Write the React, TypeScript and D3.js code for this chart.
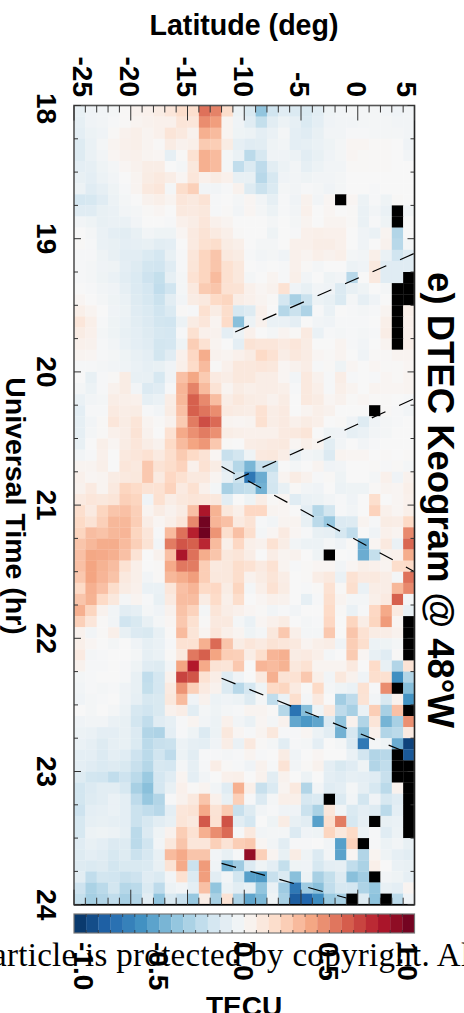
import React from "react";
import * as d3 from "d3";

const N = null;
// DTEC in hundredths of a TECU; rows every 5 min, columns every 1 deg latitude from -25 to 5.
const hour18 = [
[-8,-4,-3,-2,1,4,5,8,12,18,17,55,50,18,-6,-16,-40,-20,-12,-15,-16,-11,-5,-3,-2,-2,-2,-3,-4,-3],
[-9,-4,-3,-1,1,3,4,5,5,13,12,47,42,3,-4,-12,-24,-11,-6,-9,-15,-10,-4,-3,-3,-2,-2,-2,-3,-3],
[-10,-6,-4,1,4,6,3,5,13,10,4,36,32,3,-5,-6,-10,-7,-2,-10,-12,-8,-3,-3,-1,-1,-2,-2,-2,-3],
[-13,-7,-2,3,5,6,3,1,8,4,6,26,25,8,-9,-12,-11,-5,-3,-10,-9,-7,-5,-2,2,2,1,1,0,-4],
[-13,-7,-3,2,4,5,3,2,-9,1,15,36,32,-2,-7,-27,-17,-4,-4,-6,-11,-8,-4,-2,2,1,1,1,0,-3],
[-10,-9,-5,-2,2,4,7,7,0,-2,11,36,32,-2,-25,-15,-26,-11,-6,-3,-9,-6,-3,-3,1,1,1,1,0,0],
[-8,-10,-6,-3,0,3,8,10,7,2,12,5,8,5,-8,-8,-28,-17,-4,-3,-5,-3,-3,-2,0,0,0,0,0,0],
[-6,-12,-9,-5,-1,3,10,12,-2,18,24,-3,-3,-1,4,-13,-22,-15,-2,-3,-1,-2,-4,-2,0,0,-1,0,0,0],
[-18,-17,-12,-6,-2,0,4,6,3,12,10,14,-1,0,-2,2,-3,-9,-1,-4,4,-3,2,N,2,-6,-1,-5,1,0],
[-12,-12,-8,-7,-3,-2,1,2,0,10,9,11,-1,1,-3,2,-2,-6,-1,-3,5,0,2,0,1,-7,-3,-7,N,-3],
[-3,-5,-8,-7,-7,-3,0,0,-1,5,7,12,5,3,0,0,0,-2,0,-2,3,0,3,3,1,-7,-1,-5,N,0],
[0,-2,-7,-10,-11,-8,-3,-5,-5,2,9,14,9,6,1,0,0,-5,0,-1,5,6,5,5,0,-4,-7,3,-30,0],
];
const hour19 = [
[1,-1,-7,-8,-10,-9,-8,-11,-10,0,9,16,18,8,6,0,-2,-2,0,5,5,7,7,5,0,-4,0,4,-28,-2],
[-1,-1,-5,-8,-11,-11,-15,-18,-8,-1,12,22,28,10,8,-1,-3,-2,-4,5,3,6,4,6,-2,-3,6,-7,-20,-12],
[-1,-2,-4,-5,-10,-13,-19,-20,-12,-1,13,22,28,16,11,0,-1,0,-1,5,1,-2,0,0,-6,-4,10,-12,-12,-12],
[-1,-2,-5,-7,-11,-15,-21,-24,-9,-2,15,22,32,16,11,-2,0,3,-1,6,-3,0,-5,-3,-28,0,10,-12,-12,N],
[0,-1,-3,-4,-9,-14,-18,-25,-20,-2,10,26,28,15,14,5,2,4,15,-4,-8,-3,-4,-14,-8,-5,0,-2,N,N],
[2,0,-2,-5,-7,-13,-17,-22,-11,-3,8,10,20,22,7,5,3,1,-18,-33,-22,-6,-8,-15,-2,-9,-4,0,N,N],
[6,3,0,-4,-6,-12,-15,-20,-15,1,-1,16,8,18,-17,-13,5,0,-29,-22,-31,-1,-7,0,-1,-2,-1,3,N,6],
[12,6,-1,-5,-7,-11,-14,-19,-20,-6,8,12,3,19,-42,-6,4,-7,-7,-10,0,-3,-4,-1,-1,-1,0,6,N,5],
[8,5,-2,-5,-8,-10,-13,-17,-18,-1,16,5,4,-10,-6,5,0,-2,3,1,9,-7,-1,-2,-1,-2,-1,7,N,5],
[5,4,-1,-3,-7,-10,-12,-19,-18,-5,25,15,3,0,-10,14,12,12,9,12,8,0,0,3,-1,-3,0,3,N,6],
[3,2,-1,-2,-5,-8,-10,-19,-12,5,21,37,4,3,5,8,20,15,7,11,8,2,1,3,0,-4,1,1,3,3],
[-1,-1,-2,-3,-4,-7,-9,-8,-4,6,19,32,1,5,11,11,12,11,2,4,7,-1,1,-5,2,0,2,1,1,2],
];
const hour20 = [
[0,-8,-1,1,8,-8,-8,-17,-4,30,39,26,9,7,11,11,7,7,2,-3,10,4,-1,7,-1,0,-1,2,1,3],
[-2,-6,-1,4,8,-3,-14,-12,-1,34,50,32,14,3,8,6,7,7,6,-1,10,6,-1,6,3,0,3,2,2,3],
[-7,-3,-2,7,6,5,-9,-7,7,33,60,48,31,7,11,8,7,4,8,0,10,8,2,4,1,2,1,1,0,-1],
[-10,-1,-1,9,7,8,-1,-3,8,30,60,54,47,9,8,7,15,7,9,0,3,6,4,0,0,0,N,1,-1,-3],
[-9,-3,1,12,8,13,3,1,4,26,52,65,57,3,2,3,16,7,9,5,8,6,0,1,-4,-13,-4,-2,-1,0],
[-9,-2,1,5,7,14,4,0,15,38,46,52,46,7,6,5,5,5,9,10,13,0,-5,-4,-9,-7,-3,-2,0,0],
[-8,0,6,2,8,12,7,4,20,32,40,44,27,1,0,7,8,9,10,2,6,3,-11,-3,0,-3,-1,0,0,0],
[-3,-1,5,0,10,12,15,9,17,26,20,14,2,-23,-19,-5,10,11,7,-9,-3,-5,-14,3,2,2,0,1,0,1],
[3,3,6,0,12,10,27,14,18,23,5,15,8,-12,-29,-46,-23,-24,0,-2,0,3,-4,-3,0,0,1,-1,1,-2],
[5,2,3,8,10,11,27,9,21,16,10,10,3,-8,-22,-72,-50,-18,3,8,4,-1,1,-5,0,0,-2,5,-4,4],
[4,9,3,10,22,19,14,15,23,9,16,5,-2,-33,-26,-24,-48,-19,-8,1,-3,-4,0,-6,-5,-5,1,3,2,6],
[9,12,11,13,24,22,-4,16,7,11,13,12,11,-11,0,-5,7,1,2,-12,-7,-6,-3,-1,-4,0,17,0,2,5],
];
const hour21 = [
[17,9,22,28,30,24,3,8,4,8,30,82,35,11,6,21,21,3,2,0,-10,-29,-19,-1,-3,0,23,5,2,6],
[20,14,24,33,33,25,7,2,6,12,48,97,34,30,9,14,-1,-3,3,3,-8,-27,-38,-14,-13,3,-1,8,7,20],
[22,31,29,33,34,22,12,-1,32,55,78,98,45,17,30,17,-2,2,9,2,-1,-8,-9,-17,-25,0,-4,5,3,48],
[28,33,37,37,32,24,14,-3,52,63,60,76,32,6,21,6,4,15,7,-3,-6,-6,-2,-4,1,-50,2,10,-7,58],
[30,39,38,36,30,14,0,4,30,82,55,37,28,11,13,7,0,7,3,4,0,-5,N,0,-1,-50,-24,4,5,37],
[30,40,35,31,15,6,0,1,38,53,52,25,10,11,18,15,9,15,3,-1,1,2,2,-3,2,6,5,3,18,19],
[27,40,34,29,10,6,-3,1,33,37,42,25,11,11,18,4,8,13,7,0,1,7,10,-7,15,9,10,7,-2,55],
[20,36,30,18,8,5,-7,-7,12,30,34,20,21,8,22,-2,6,15,8,0,-1,1,15,1,17,-7,7,7,33,48],
[28,35,20,11,-2,3,-1,-8,9,31,31,8,19,6,18,0,2,5,4,0,-9,-1,17,3,-2,-2,6,9,60,-2],
[36,22,4,-3,-11,-9,-2,-4,4,29,23,-2,13,7,5,2,1,-3,-1,-3,0,0,19,1,-7,-1,21,38,9,-8],
[24,12,1,-3,-20,-16,-8,-2,2,27,16,1,10,10,-2,-7,2,5,8,0,-2,-1,21,0,22,7,22,43,2,N],
[4,-3,1,6,-8,-14,-16,-8,1,32,13,3,12,6,3,-5,-2,11,27,6,-2,-2,27,0,28,15,8,7,4,N],
];
const hour22 = [
[6,2,0,-2,0,-4,-9,-7,-1,15,15,36,57,28,8,12,9,14,12,10,3,6,7,-4,25,17,-6,-5,-2,N],
[9,-2,-1,0,0,-2,-9,-7,1,10,53,60,40,25,24,7,17,34,36,8,9,6,-2,0,26,2,-8,-12,1,N],
[4,-1,-1,0,-1,-5,-12,-13,-3,40,80,38,14,13,27,0,34,32,35,11,15,3,3,3,10,0,19,-8,-30,14],
[-2,-1,0,0,-1,-8,-25,-18,4,68,63,15,7,-12,-4,0,10,36,14,15,27,6,-3,11,4,-4,17,16,-62,-30],
[-3,-1,-2,-1,-4,-8,-24,-18,9,45,24,9,4,-14,-28,-18,-5,20,22,9,1,20,-2,-5,-7,15,-1,47,N,-43],
[-4,-2,-1,0,-4,-9,-17,-16,11,32,-4,4,-6,-4,-6,-13,-2,-25,-7,17,-2,10,0,-35,-26,14,-3,-16,4,-60],
[0,-2,0,-2,-6,-17,-20,-16,4,7,-11,-2,-5,-2,-1,3,3,1,-29,-74,-43,-5,10,-26,-33,-7,25,-33,30,N],
[-4,-3,-3,-7,-8,-19,-25,-12,-9,-1,3,-3,-6,5,-3,-7,2,-2,4,-52,-58,-53,-14,-40,4,-30,13,-47,-33,46],
[-6,-7,-10,-10,-8,-14,-30,-31,-10,-1,-5,-14,-6,11,2,-1,3,11,-1,-1,2,-6,-11,-48,-17,-42,5,-30,-27,9],
[-7,-9,-13,-9,-8,-15,-27,-23,-22,-6,-9,-10,-4,7,-7,10,1,-2,-11,-1,-2,-10,0,-2,-14,-72,-2,-5,-50,-93],
[-10,-10,-14,-10,-12,-21,-27,-20,-26,-6,-11,-1,-1,-2,-1,3,-1,0,8,-4,0,2,0,0,-7,-19,-30,-28,N,-85],
[-10,-12,-15,-13,-16,-23,-29,-17,-18,-2,-9,-1,7,1,-1,-4,4,-1,14,-3,1,4,-10,-16,-12,-5,-30,-25,N,N],
];
const hour23 = [
[-13,-19,-20,-25,-21,-27,-37,-18,-12,3,-10,-3,0,5,6,0,4,-11,4,0,-6,0,-10,-12,-9,-10,-12,-23,N,N],
[-19,-14,-11,-11,-17,-33,-42,-18,-8,5,1,3,-3,-12,36,6,-23,-15,3,10,-30,-3,-12,-10,-2,-9,-17,-27,4,N],
[-19,-13,-11,-7,-10,-26,-38,-30,-1,4,10,28,5,-8,24,-1,-14,-2,6,6,-17,-15,N,-14,-3,-19,-4,-17,-12,N],
[-21,-10,-9,-7,-10,-22,-25,-28,-10,12,14,38,14,26,-23,-13,-3,-1,-4,-4,-22,-32,12,-3,-15,-10,-13,-27,-10,N],
[-17,-9,-8,-9,-10,-22,-17,-11,-8,13,10,62,15,64,-11,-18,0,-5,8,-8,-11,-55,17,52,-17,-9,N,-8,-7,N],
[-17,-6,-5,-6,-9,-27,-14,-5,4,25,15,36,47,57,-1,10,-3,-2,-2,-14,-4,-5,22,11,20,-6,-1,-12,-6,N],
[-12,-8,-10,-14,-13,-27,-20,-3,11,28,12,12,24,14,25,27,2,-3,-11,-1,-1,0,-3,-55,23,N,-1,-6,-3,-8],
[-13,-10,-12,-17,-13,-22,-17,-8,32,38,28,28,-3,-8,-1,88,24,3,-8,8,-5,-14,-3,-54,2,-30,3,-5,-9,-11],
[-13,-15,-13,-19,-16,-16,-15,-8,14,38,-22,43,-4,-47,-36,-14,-5,-10,-24,-5,-4,-17,-10,-9,-25,-32,6,0,-7,-8],
[-11,-25,-19,-20,-23,-21,-12,-15,-3,16,-14,42,-11,-3,-19,-55,-57,-23,-15,-42,-6,-33,-24,-13,-42,-35,N,-3,-5,-9],
[-21,-32,-27,-19,-29,-27,-15,-26,-6,-3,-10,30,-40,-6,-11,-8,-40,-7,-36,-72,-36,-42,-25,-17,-18,-31,-39,-8,-10,3],
[-24,-34,-30,-25,-33,-30,-11,-40,-16,-23,-38,7,-33,14,-31,-53,-45,-5,-33,-83,-80,-63,-37,-33,N,-13,-41,N,-27,-4],
];
const dtecRows = [...hour18, ...hour19, ...hour20, ...hour21, ...hour22, ...hour23];

const latTicks = [-25, -20, -15, -10, -5, 0, 5];
const latMinor = d3.range(-25, 6, 1);
const utTicks = [18, 19, 20, 21, 22, 23, 24];
const utMinor = d3.range(18, 24.01, 0.25);
const cbarTicks = ["-1.0", "-0.5", "0.0", "0.5", "1.0"];
const cbarTickValues = [-1, -0.5, 0, 0.5, 1];
const cbarLevels = 28;
const rdbuStops = ["#053061", "#2166ac", "#4393c3", "#92c5de", "#d1e5f0", "#f7f7f7", "#fddbc7", "#f4a582", "#d6604d", "#b2182b", "#67001f"];
const rdbuValues = [-1, -0.8, -0.6, -0.4, -0.2, 0, 0.2, 0.4, 0.6, 0.8, 1];

// Dashed travelling-front lines: [lat, UT] end points.
const fronts: [number, number][][] = [
  [[-10.8, 19.7], [5, 19.11]],
  [[-10.8, 20.81], [5, 20.2]],
  [[-12, 20.71], [5, 21.5]],
  [[-12, 22.3], [5, 22.88]],
  [[-12, 23.69], [-1, 23.95]],
];

const W = 464, H = 1013;
const x = d3.scaleLinear().domain([-25, 5]).range([74, 414.5]);
const y = d3.scaleLinear().domain([18, 24]).range([105.5, 904.7]);
const color = d3.scaleLinear<string>().domain(rdbuValues).range(rdbuStops).interpolate(d3.interpolateRgb).clamp(true);
const cbarX = d3.scaleLinear().domain([-1, 1]).range([74, 414.5]);
const FONT = "'Liberation Sans', Arial, sans-serif";
const dash = "15 15";

export default function App() {
  const line = d3.line<[number, number]>().x((d) => x(d[0])).y((d) => y(d[1]));
  const stepLat = 1;
  const stepUT = 1 / 12;
  const cbarStep = 2 / cbarLevels;
  const tickDark = "#333";
  return (
    <svg width={W} height={H} viewBox={`0 0 ${W} ${H}`}
      style={{ position: "fixed", left: 0, top: 0, display: "block", background: "#fff" }}>
      {dtecRows.map((row, r) =>
        row.map((v, c) => {
          const lat0 = -25 + c * stepLat;
          const ut0 = 18 + r * stepUT;
          const xa = x(lat0), xb = x(lat0 + stepLat), ya = y(ut0), yb = y(ut0 + stepUT);
          return (
            <rect key={`${r}-${c}`} x={xa} y={ya} width={xb - xa + 0.25} height={yb - ya + 0.25}
              fill={v === null ? "#000" : color(v / 100)} />
          );
        })
      )}
      {fronts.map((f, i) => (
        <path key={i} d={line(f) ?? ""} fill="none" stroke="#000" strokeWidth={1.2} strokeDasharray={dash} />
      ))}
      {/* plot frame */}
      <rect x={x(-25)} y={y(18)} width={x(5) - x(-25)} height={y(24) - y(18)} fill="none" stroke="#555" strokeWidth={1.6} />
      <line x1={x(-25)} x2={x(5)} y1={y(24)} y2={y(24)} stroke="#000" strokeWidth={1.4} />
      <line x1={x(5)} x2={x(5)} y1={y(18)} y2={y(24)} stroke="#222" strokeWidth={1.2} />
      {latMinor.map((t) => {
        const major = latTicks.includes(t);
        const len = major ? 15 : 7;
        return (
          <g key={t}>
            <line x1={x(t)} x2={x(t)} y1={y(18)} y2={y(18) + len} stroke={tickDark} strokeWidth={1} />
            <line x1={x(t)} x2={x(t)} y1={y(24)} y2={y(24) - len} stroke={tickDark} strokeWidth={1} />
          </g>
        );
      })}
      {utMinor.map((t) => {
        const major = utTicks.includes(t);
        const len = major ? 7 : 4;
        return (
          <g key={t}>
            <line x1={x(-25)} x2={x(-25) + len} y1={y(t)} y2={y(t)} stroke={tickDark} strokeWidth={1} />
            <line x1={x(5)} x2={x(5) - len} y1={y(t)} y2={y(t)} stroke={tickDark} strokeWidth={1} />
          </g>
        );
      })}
      <g fontFamily={FONT} fontWeight="bold" fill="#000">
        <text x={244} y={35} fontSize={28.6} textAnchor="middle">Latitude (deg)</text>
        {latTicks.map((t) => {
          const bx = Math.max(73, Math.min(397, x(t) - 10.7));
          return (
            <text key={t} transform={`translate(${bx},97) rotate(90)`} fontSize={28} textAnchor="end">{t}</text>
          );
        })}
        {utTicks.map((t) => {
          const cy = t === 18 ? y(t) + 3 : y(t);
          return (
            <text key={t} transform={`translate(37,${cy}) rotate(90)`} fontSize={28} textAnchor="middle">{t}</text>
          );
        })}
        <text transform="translate(6,506) rotate(90)" fontSize={28.5} textAnchor="middle">Universal Time (hr)</text>
        <text transform="translate(428,500) rotate(90)" fontSize={36.5} textAnchor="middle">e) DTEC Keogram @ 48°W</text>
      </g>
      {/* colour bar */}
      {d3.range(cbarLevels).map((i) => {
        const v0 = -1 + i * cbarStep;
        const xa = cbarX(v0), xb = cbarX(v0 + cbarStep);
        return <rect key={i} x={xa} y={914} width={xb - xa + 0.25} height={19} fill={color(v0 + cbarStep / 2)} />;
      })}
      <rect x={74} y={914} width={340.5} height={19} fill="none" stroke="#777" strokeWidth={1.2} />
      {d3.range(1, cbarLevels).map((i) => {
        const xa = cbarX(-1 + i * cbarStep);
        return (
          <g key={i}>
            <line x1={xa} x2={xa} y1={914} y2={917} stroke="#333" strokeWidth={0.8} />
            <line x1={xa} x2={xa} y1={933} y2={930} stroke="#333" strokeWidth={0.8} />
          </g>
        );
      })}
      <text x={-8} y={966} fontSize={33} fontFamily="'Liberation Serif', serif" letterSpacing={0.3} fill="#000">article is protected by copyright. All</text>
      <g fontFamily={FONT} fontWeight="bold" fill="#000">
        {cbarTicks.map((t, i) => {
          const bx = Math.max(74, Math.min(398, cbarX(cbarTickValues[i]) - 10));
          return (
            <text key={t} transform={`translate(${bx},942) rotate(90)`} fontSize={28} textAnchor="start">{t}</text>
          );
        })}
        <text x={244} y={1016} fontSize={28} textAnchor="middle">TECU</text>
      </g>
    </svg>
  );
}
